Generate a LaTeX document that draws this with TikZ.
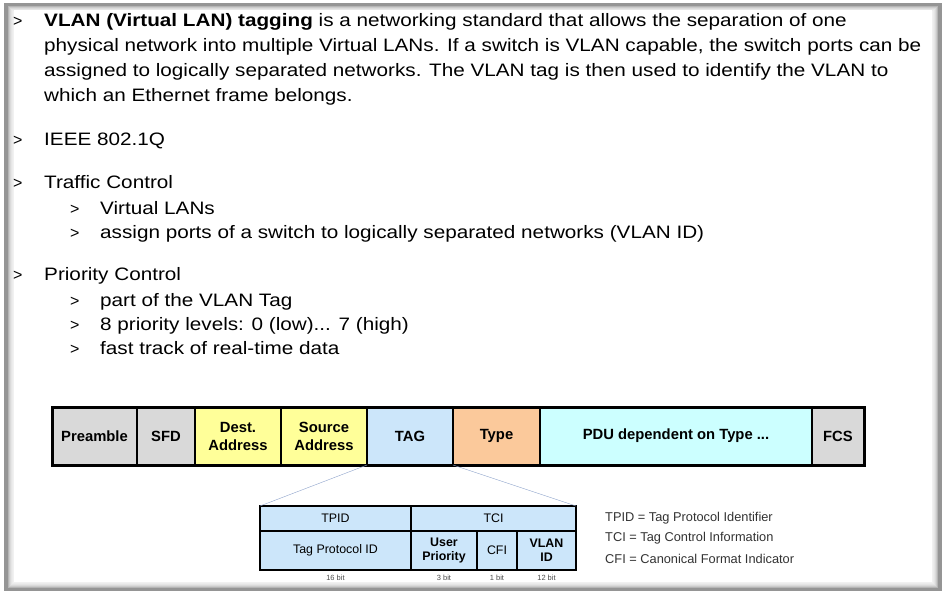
\documentclass[tikz,border=0pt]{standalone}
\usepackage{fontspec}
\setmainfont{Liberation Sans}
\newfontfamily\slidefont[FakeStretch=1.15]{Liberation Sans}
\usetikzlibrary{positioning}

\definecolor{cellgray}{HTML}{D9D9D9}
\definecolor{cellyellow}{HTML}{FFFF99}
\definecolor{cellblue}{HTML}{CCE6FA}
\definecolor{cellorange}{HTML}{FBC99B}
\definecolor{cellcyan}{HTML}{CCFFFF}
\definecolor{zoomline}{HTML}{8EA3CC}
\definecolor{framegray}{HTML}{959595}

\begin{document}
\begin{tikzpicture}[x=1pt, y=-1pt,
    textline/.style={anchor=base west, inner sep=0pt, font=\slidefont\fontsize{18}{22}\selectfont},
    bulletmark/.style={anchor=base west, inner sep=0pt, font=\fontsize{16}{18}\selectfont},
    field/.style={draw, line width=1.5pt, outer sep=0pt, inner sep=0pt, minimum height=58pt, align=center, font=\bfseries\fontsize{14.8}{18}\selectfont},
    tagcell/.style={draw, line width=1.2pt, outer sep=0pt, inner sep=0pt, fill=cellblue, align=center, font=\fontsize{12.4}{14}\selectfont},
    bits/.style={inner sep=0pt, font=\fontsize{7.5}{8}\selectfont, text=black!70},
    legend/.style={anchor=west, inner sep=0pt, font=\fontsize{12.8}{14}\selectfont, text=black!80}]

    \useasboundingbox (0,0) rectangle (946,594);

    % slide frame
    \fill[framegray] (4,3) rectangle (942,591);
    \foreach \i in {0,...,5}
        \fill[white, opacity=0.3] (8+\i,6+\i) rectangle (938-\i,588-\i);
    \fill[white] (14,10) rectangle (932,582);

    % bullet text
    \node[bulletmark] (m1) at (13,27) {>};
    \node[textline] (t1) at (44,27) {\textbf{VLAN (Virtual LAN) tagging} is a networking standard that allows the separation of one};
    \node[textline] (t2) at (44,52) {physical network into multiple Virtual LANs. If a switch is VLAN capable, the switch ports can be};
    \node[textline] (t3) at (44,77) {assigned to logically separated networks. The VLAN tag is then used to identify the VLAN to};
    \node[textline] (t4) at (44,102) {which an Ethernet frame belongs.};

    \node[bulletmark] (m2) at (13,146) {>};
    \node[textline] (t5) at (44,146) {IEEE 802.1Q};

    \node[bulletmark] (m3) at (13,188) {>};
    \node[textline] (t6) at (44,188) {Traffic Control};
    \node[bulletmark] (m4) at (70,214) {>};
    \node[textline] (t7) at (100,214) {Virtual LANs};
    \node[bulletmark] (m5) at (70,238) {>};
    \node[textline] (t8) at (100,238) {assign ports of a switch to logically separated networks (VLAN ID)};

    \node[bulletmark] (m6) at (13,280) {>};
    \node[textline] (t9) at (44,280) {Priority Control};
    \node[bulletmark] (m7) at (70,306) {>};
    \node[textline] (t10) at (100,306) {part of the VLAN Tag};
    \node[bulletmark] (m8) at (70,330) {>};
    \node[textline] (t11) at (100,330) {8 priority levels: 0 (low)... 7 (high)};
    \node[bulletmark] (m9) at (70,354) {>};
    \node[textline] (t12) at (100,354) {fast track of real-time data};

    % Ethernet frame
    \node[field, fill=cellgray, minimum width=85pt, anchor=north west] (pre) at (52,407) {Preamble};
    \node[field, fill=cellgray, minimum width=58pt, right=0pt of pre] (sfd) {SFD};
    \node[field, fill=cellyellow, minimum width=86pt, right=0pt of sfd] (dest) {Dest.\\Address};
    \node[field, fill=cellyellow, minimum width=86pt, right=0pt of dest] (src) {Source\\Address};
    \node[field, fill=cellblue, minimum width=86pt, right=0pt of src] (tag) {TAG};
    \node[field, fill=cellorange, minimum width=87pt, right=0pt of tag] (type) {Type};
    \node[field, fill=cellcyan, minimum width=272pt, right=0pt of type] (pdu) {PDU dependent on Type ...};
    \node[field, fill=cellgray, minimum width=52pt, right=0pt of pdu] (fcs) {FCS};
    \draw[line width=3pt] (pre.north west) rectangle (fcs.south east);

    % VLAN tag
    \node[tagcell, minimum width=151pt, minimum height=25pt, anchor=north west] (tpid) at (260,506) {TPID};
    \node[tagcell, minimum width=165pt, minimum height=25pt, right=0pt of tpid] (tci) {TCI};
    \node[tagcell, minimum width=151pt, minimum height=39pt, below=0pt of tpid] (proto) {Tag Protocol ID};
    \node[tagcell, minimum width=66pt, minimum height=39pt, anchor=north west, font=\bfseries\fontsize{12.4}{14}\selectfont] (prio) at (tci.south west) {User\\Priority};
    \node[tagcell, minimum width=40pt, minimum height=39pt, right=0pt of prio] (cfi) {CFI};
    \node[tagcell, minimum width=59pt, minimum height=39pt, right=0pt of cfi, font=\bfseries\fontsize{12.4}{14}\selectfont] (vid) {VLAN\\ID};
    \draw[line width=2.5pt] (tpid.north west) rectangle (vid.south east);

    \draw[zoomline] (tag.south west) -- (tpid.north west);
    \draw[zoomline] (tag.south east) -- (tci.north east);

    \node[bits, below=5pt of proto] (b16) {16 bit};
    \node[bits, below=5pt of prio] (b3) {3 bit};
    \node[bits, below=5pt of cfi] (b1) {1 bit};
    \node[bits, below=5pt of vid] (b12) {12 bit};

    \node[legend] (lg1) at (605,518) {TPID = Tag Protocol Identifier};
    \node[legend] (lg2) at (605,538) {TCI = Tag Control Information};
    \node[legend] (lg3) at (605,559) {CFI = Canonical Format Indicator};
\end{tikzpicture}
\end{document}
